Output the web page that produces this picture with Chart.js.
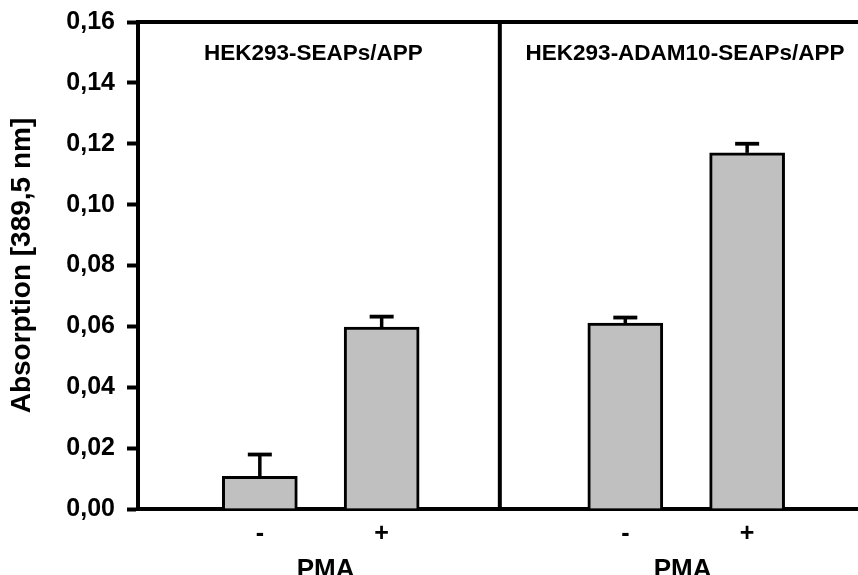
<!DOCTYPE html>
<html>
<head>
<meta charset="utf-8">
<script src="https://cdn.jsdelivr.net/npm/chart.js@4/dist/chart.umd.min.js"></script>
<style>
  html, body { margin: 0; padding: 0; background: #fff; }
  canvas { display: block; }
</style>
</head>
<body>
<canvas id="chart" width="858" height="575"></canvas>
<script>
// Cell lines (one panel each) and PMA treatment within each panel
const cellLines = ['HEK293-SEAPs/APP', 'HEK293-ADAM10-SEAPs/APP'];
const pmaLabels = ['-', '+'];

// Mean absorption at 389,5 nm, ordered panel by panel: (-, +), (-, +)
const absorption = [0.0107, 0.0598, 0.0611, 0.1170];
// Upper error (SD) for each bar
const errorUp = [0.0072, 0.0034, 0.0018, 0.0030];

// Y axis tick values
const yTickValues = [0, 0.02, 0.04, 0.06, 0.08, 0.10, 0.12, 0.14, 0.16];

const FONT = '"Liberation Sans", Arial, Helvetica, sans-serif';

// Bar slots on the linear x scale: two bars per panel, one empty slot between panels
const slots = absorption.map((v, k) => Math.floor(k / pmaLabels.length) * 3 + (k % pmaLabels.length) + 1);
const slotLabels = absorption.map((v, k) => pmaLabels[k % pmaLabels.length]);

// Upward-only error bars with a flat cap
const errorBarPlugin = {
  id: 'errorBars',
  afterDatasetsDraw(chart) {
    const ctx = chart.ctx;
    const xs = chart.scales.x, ys = chart.scales.y;
    ctx.save();
    ctx.strokeStyle = '#000';
    ctx.lineCap = 'butt';
    absorption.forEach((v, k) => {
      const x = xs.getPixelForValue(slots[k]);
      const y0 = ys.getPixelForValue(v);
      const y1 = ys.getPixelForValue(v + errorUp[k]);
      ctx.lineWidth = 3.5;
      ctx.beginPath();
      ctx.moveTo(x, y0);
      ctx.lineTo(x, y1);
      ctx.stroke();
      ctx.lineWidth = 3.8;
      ctx.beginPath();
      ctx.moveTo(x - 12, y1);
      ctx.lineTo(x + 12, y1);
      ctx.stroke();
    });
    ctx.restore();
  }
};

// Frame top line, panel divider, panel titles and the PMA captions
const panelPlugin = {
  id: 'panels',
  afterDraw(chart) {
    const ctx = chart.ctx;
    const area = chart.chartArea;
    const xs = chart.scales.x;
    ctx.save();
    ctx.strokeStyle = '#000';
    ctx.lineWidth = 4;
    ctx.lineCap = 'butt';
    // top frame line
    ctx.beginPath();
    ctx.moveTo(area.left - 2, area.top);
    ctx.lineTo(area.right, area.top);
    ctx.stroke();
    // divider between panels
    const xDiv = xs.getPixelForValue(2.97);
    ctx.beginPath();
    ctx.moveTo(xDiv, area.top);
    ctx.lineTo(xDiv, area.bottom);
    ctx.stroke();

    ctx.fillStyle = '#000';
    ctx.textAlign = 'center';
    ctx.textBaseline = 'alphabetic';
    // panel titles
    ctx.font = 'bold 22.5px ' + FONT;
    const titlePos = [1.44, 4.49];
    cellLines.forEach((t, g) => {
      ctx.fillText(t, xs.getPixelForValue(titlePos[g]), area.top + 38);
    });
    // PMA captions below each panel
    ctx.font = 'bold 26px ' + FONT;
    const pmaPos = [1.54, 4.47];
    cellLines.forEach((t, g) => {
      ctx.fillText('PMA', xs.getPixelForValue(pmaPos[g]), area.bottom + 67.5);
    });
    ctx.restore();
  }
};

new Chart(document.getElementById('chart'), {
  type: 'bar',
  data: {
    datasets: [{
      data: slots.map((x, k) => ({ x: x, y: absorption[k] })),
      backgroundColor: '#c0c0c0',
      borderColor: '#000',
      borderWidth: 3,
      barThickness: 75
    }]
  },
  options: {
    responsive: false,
    devicePixelRatio: 1,
    animation: false,
    layout: { padding: { top: 22, right: 0, left: 0, bottom: 0 } },
    plugins: {
      legend: { display: false },
      tooltip: { enabled: false }
    },
    scales: {
      x: {
        type: 'linear',
        offset: false,
        min: 0,
        max: 5.91,
        afterBuildTicks: s => { s.ticks = slots.map(v => ({ value: v })); },
        afterFit: s => { s.height = 66; s.paddingLeft = 0; s.paddingRight = 0; },
        ticks: {
          callback: (v, i) => slotLabels[i],
          autoSkip: false,
          maxRotation: 0,
          padding: 10,
          color: '#000',
          font: { family: FONT, size: 25, weight: 'bold' }
        },
        grid: { offset: false, drawOnChartArea: false, drawTicks: false },
        border: { display: true, width: 4, color: '#000' }
      },
      y: {
        min: 0,
        max: 0.16,
        afterBuildTicks: s => { s.ticks = yTickValues.map(v => ({ value: v })); },
        afterFit: s => { s.width = 138; s.paddingTop = 0; s.paddingBottom = 0; },
        ticks: {
          callback: v => v.toFixed(2).replace('.', ','),
          padding: 12,
          color: '#000',
          font: { family: FONT, size: 25, weight: 'bold' }
        },
        grid: {
          drawOnChartArea: false,
          drawTicks: true,
          tickLength: 11,
          tickWidth: 4,
          tickColor: '#000'
        },
        border: { display: true, width: 4, color: '#000' },
        title: {
          display: true,
          text: 'Absorption [389,5 nm]',
          color: '#000',
          font: { family: FONT, size: 28, weight: 'bold' },
          padding: { top: 5, bottom: 0 }
        }
      }
    }
  },
  plugins: [errorBarPlugin, panelPlugin]
});
</script>
</body>
</html>
